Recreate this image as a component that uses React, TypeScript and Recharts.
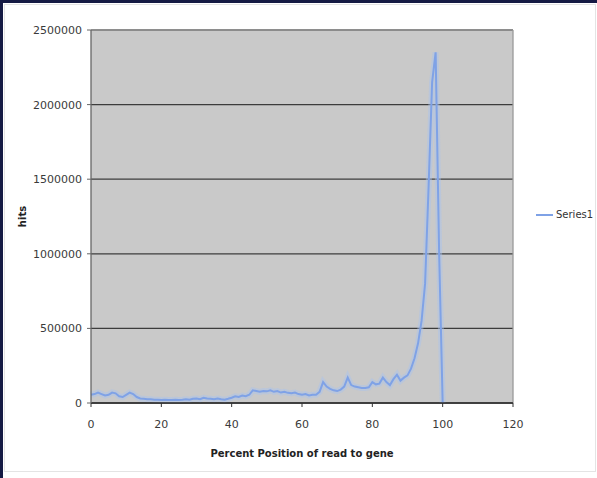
import React from 'react';
import {
    LineChart,
    Line,
    XAxis,
    YAxis,
    CartesianGrid,
    Legend,
    ReferenceLine,
} from 'recharts';

// percent position of read along the gene (x) and hit counts (y)
const positions = [
    0, 1, 2, 3, 4, 5, 6, 7, 8, 9, 10, 11, 12, 13, 14, 15, 16, 17, 18, 19, 20,
    21, 22, 23, 24, 25, 26, 27, 28, 29, 30, 31, 32, 33, 34, 35, 36, 37, 38, 39, 40,
    41, 42, 43, 44, 45, 46, 47, 48, 49, 50, 51, 52, 53, 54, 55, 56, 57, 58, 59, 60,
    61, 62, 63, 64, 65, 66, 67, 68, 69, 70, 71, 72, 73, 74, 75, 76, 77, 78, 79, 80,
    81, 82, 83, 84, 85, 86, 87, 88, 89, 90, 91, 92, 93, 94, 95, 96, 97, 98, 99, 100,
];

const hits = [
    55000, 60000, 70000, 60000, 50000, 55000, 70000, 65000, 45000, 40000, 55000,
    70000, 60000, 40000, 30000, 28000, 25000, 25000, 22000, 22000, 20000,
    22000, 20000, 20000, 22000, 20000, 22000, 25000, 22000, 28000, 30000,
    25000, 35000, 30000, 28000, 25000, 30000, 25000, 22000, 28000, 35000,
    45000, 40000, 50000, 45000, 55000, 85000, 80000, 75000, 80000, 78000,
    85000, 75000, 80000, 70000, 75000, 68000, 65000, 70000, 60000, 55000,
    60000, 50000, 55000, 55000, 75000, 140000, 110000, 95000, 85000, 80000,
    90000, 110000, 170000, 120000, 110000, 105000, 100000, 100000, 105000, 140000,
    125000, 130000, 170000, 140000, 120000, 160000, 190000, 150000, 170000, 185000,
    230000, 300000, 400000, 550000, 800000, 1450000, 2150000, 2350000, 1000000, 0,
];

const seriesName = 'Series1';
const xTicks = [0, 20, 40, 60, 80, 100, 120];
const yTicks = [0, 500000, 1000000, 1500000, 2000000, 2500000];

const data = positions.map((p, i) => ({ position: p, hits: hits[i] }));

const FONT = '"DejaVu Sans", Verdana, sans-serif';
const LINE_COLOR = '#7fa2e6';

// rotated "hits" title on the left of the value axis
const HitsLabel = ({ viewBox }: any) => {
    const cy = viewBox.y + viewBox.height / 2;
    return (
        <text
            x={22}
            y={cy}
            transform={`rotate(-90, 22, ${cy})`}
            textAnchor="middle"
            dominantBaseline="central"
            fontFamily={FONT}
            fontSize={10}
            fontWeight="bold"
            fill="#222"
        >
            hits
        </text>
    );
};

const renderLegend = (props: any) => (
    <div>
        {(props.payload || [])
            .filter((entry: any) => entry.type !== 'none')
            .map((entry: any) => (
                <div
                    key={entry.value}
                    style={{ display: 'flex', alignItems: 'center', fontFamily: FONT, fontSize: 10, color: '#333' }}
                >
                    <svg width={17} height={6}>
                        <line x1={0} y1={3} x2={17} y2={3} stroke={entry.color} strokeWidth={2} />
                    </svg>
                    <span style={{ marginLeft: 3 }}>{entry.value}</span>
                </div>
            ))}
    </div>
);

const App: React.FC = () => {
    return (
        <div
            style={{
                position: 'absolute',
                left: 0,
                top: 0,
                width: 597,
                height: 478,
                background: '#ffffff',
                overflow: 'hidden',
            }}
        >
            {/* dark frame on top/left and faint chart-area border */}
            <div style={{ position: 'absolute', left: 0, top: 0, width: 597, height: 3, background: '#151a44' }} />
            <div style={{ position: 'absolute', left: 0, top: 0, width: 3, height: 478, background: '#151a44' }} />
            <div
                style={{
                    position: 'absolute',
                    left: 4,
                    top: 4,
                    width: 590,
                    height: 466,
                    border: '1px solid #e4e4e4',
                }}
            />
            <div style={{ position: 'absolute', left: 0, top: 0 }}>
                <LineChart
                    width={597}
                    height={478}
                    data={data}
                    margin={{ top: 30, right: 84, left: 31, bottom: 15 }}
                >
                    <CartesianGrid
                        vertical={false}
                        fill="#c9c9c9"
                        stroke="#3c3c3c"
                        strokeWidth={1.3}
                    />
                    <ReferenceLine y={2500000} stroke="#9a9a9a" strokeWidth={1.3} />
                    <ReferenceLine x={120} stroke="#9a9a9a" strokeWidth={1.3} />
                    <XAxis
                        dataKey="position"
                        type="number"
                        domain={[0, 120]}
                        ticks={xTicks}
                        height={60}
                        tickSize={4}
                        tickMargin={13}
                        tick={{ fill: '#3a3a3a', fontSize: 11, fontFamily: FONT }}
                        axisLine={{ stroke: '#333', strokeWidth: 1.3 }}
                        tickLine={{ stroke: '#333' }}
                        label={{
                            value: 'Percent Position of read to gene',
                            position: 'insideBottom',
                            offset: 6,
                            fill: '#222',
                            fontSize: 10,
                            fontWeight: 'bold',
                            fontFamily: FONT,
                        }}
                    />
                    <YAxis
                        type="number"
                        domain={[0, 2500000]}
                        ticks={yTicks}
                        width={60}
                        tickSize={4}
                        tickMargin={5}
                        tick={{ fill: '#3a3a3a', fontSize: 11, fontFamily: FONT }}
                        axisLine={{ stroke: '#666', strokeWidth: 1.3 }}
                        tickLine={{ stroke: '#666' }}
                        label={<HitsLabel />}
                    />
                    <Legend
                        content={renderLegend}
                        layout="vertical"
                        align="center"
                        verticalAlign="middle"
                        wrapperStyle={{ left: 536, top: 209, width: 'auto' }}
                    />
                    {/* soft halo under the series, as in the blurred original */}
                    <Line
                        type="linear"
                        dataKey="hits"
                        stroke="#a9c3f0"
                        strokeOpacity={0.45}
                        strokeWidth={6}
                        dot={false}
                        legendType="none"
                        activeDot={false}
                        isAnimationActive={false}
                    />
                    <Line
                        type="linear"
                        dataKey="hits"
                        name={seriesName}
                        stroke={LINE_COLOR}
                        strokeWidth={2}
                        dot={false}
                        isAnimationActive={false}
                    />
                </LineChart>
            </div>
        </div>
    );
};

export default App;
